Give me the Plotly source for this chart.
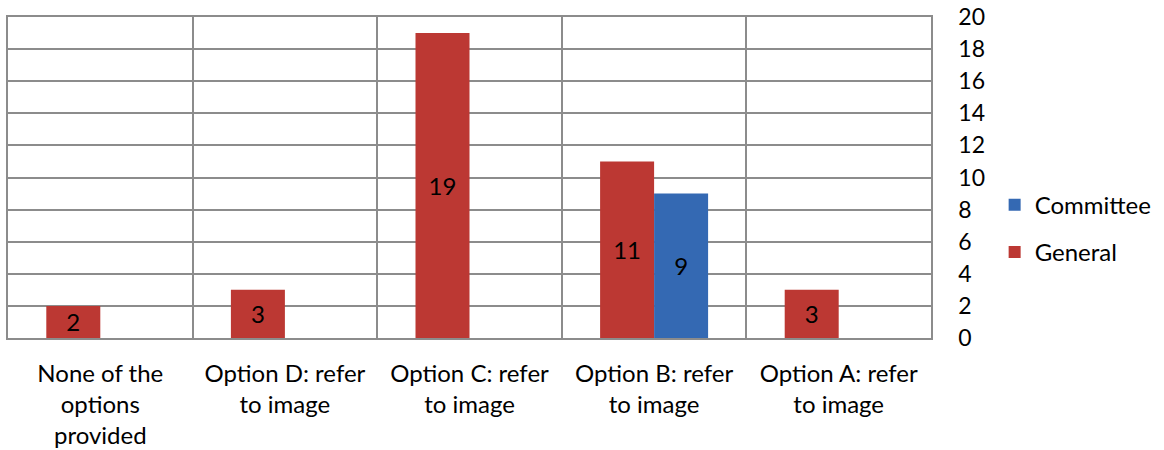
import plotly.graph_objects as go

categories = ["None of the<br>options<br>provided", "Option D: refer<br>to image",
              "Option C: refer<br>to image", "Option B: refer<br>to image",
              "Option A: refer<br>to image"]
general = [2, 3, 19, 11, 3]
committee = [None, None, None, 9, None]
y_ticks = list(range(0, 21, 2))

FONT = "Lato"
GRID = "#8c8c8c"
FS = 24

fig = go.Figure()
fig.add_trace(go.Bar(
    name="General", x=categories, y=general,
    marker=dict(color="#BC3833", line=dict(width=0)),
    text=[str(v) for v in general], textposition="inside", textangle=0,
    insidetextanchor="middle", textfont=dict(color="black", size=FS, family=FONT),
    legendgroup="g", legendrank=2, constraintext="none",
))
fig.add_trace(go.Bar(
    name="Committee", x=categories, y=committee,
    marker=dict(color="#3469B3", line=dict(width=0)),
    text=[("" if v is None else str(v)) for v in committee], textposition="inside",
    textangle=0,
    insidetextanchor="middle", textfont=dict(color="black", size=FS, family=FONT),
    legendgroup="c", legendrank=1, constraintext="none",
))

fig.update_layout(
    width=1164, height=450,
    margin=dict(l=8, r=233, t=17, b=112, autoexpand=False),
    paper_bgcolor="white", plot_bgcolor="white",
    font=dict(family=FONT, size=FS, color="black"),
    barmode="group", bargap=0.415, bargroupgap=0,
    showlegend=True,
    legend=dict(xref="container", yref="container", x=0.8545, y=0.492,
                xanchor="left", yanchor="middle",
                traceorder="grouped", tracegroupgap=13,
                font=dict(size=FS, family=FONT), itemwidth=30,
                bgcolor="rgba(0,0,0,0)"),
    xaxis=dict(type="category", tickson="boundaries", showgrid=True,
               gridcolor=GRID, gridwidth=1.5,
               showline=True, linecolor=GRID, linewidth=1.5, mirror=True,
               ticks="", ticklabelstandoff=13,
               tickfont=dict(size=FS, family=FONT), fixedrange=True,
               automargin=False),
    yaxis=dict(side="right", range=[0, 20], tickvals=y_ticks,
               showgrid=True, gridcolor=GRID, gridwidth=1.5,
               showline=True, linecolor=GRID, linewidth=1.5, mirror=True,
               ticks="outside", ticklen=21, tickcolor="rgba(0,0,0,0)",
               ticklabeloverflow="allow",
               tickfont=dict(size=23, family=FONT), zeroline=False,
               fixedrange=True, automargin=False),
)

fig.write_html("out.html", config={"displayModeBar": False},
               post_script="document.body.style.margin='0';")
